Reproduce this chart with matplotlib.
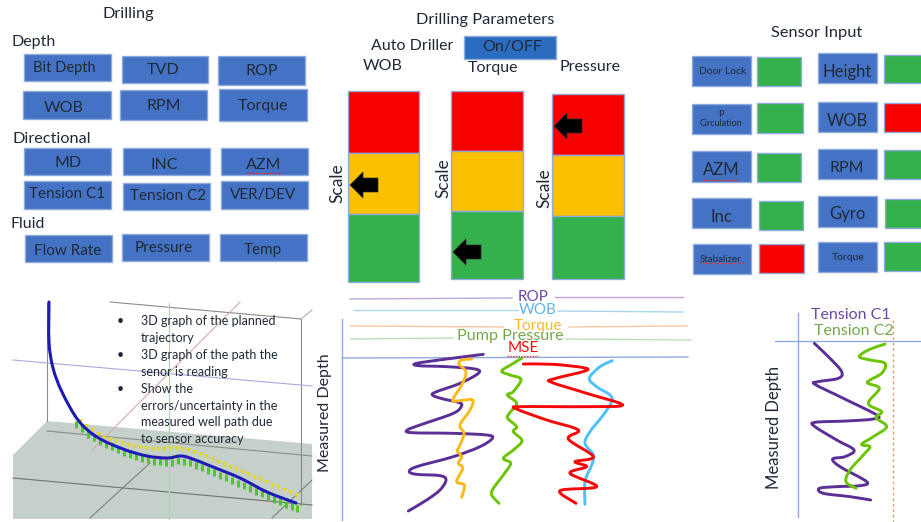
import matplotlib
matplotlib.use("Agg")
import matplotlib.pyplot as plt
from matplotlib.patches import Rectangle, Polygon, PathPatch
from matplotlib.path import Path

plt.rcParams["font.family"] = ["Lato", "DejaVu Sans"]

TEXT = "#1f2937"
BLUE_BOX = "#4472C4"
BOX_EDGE = "#8faadc"
GREEN = "#34B04C"
RED = "#F60000"
AMBER = "#FBC000"
PURPLE = "#5B2F96"

# ----- tiles: label, x0, y0, x1, y1, text x, text y, font size (reference pixels)
drill_tiles = [
    ("Bit Depth", 24, 54, 111, 81, 64, 68, 10.5), ("TVD", 122, 56, 208, 83, 163, 70, 11.5),
    ("ROP", 218, 56, 305, 85, 262, 71, 11.5), ("WOB", 23, 91, 111, 119, 64, 108, 11.5),
    ("RPM", 120, 90, 207, 120, 164, 106, 11.5), ("Torque", 219, 89, 307, 121, 263, 106, 11.5),
    ("MD", 24, 148, 111, 175, 68, 163, 11.5), ("INC", 123, 148, 210, 175, 164, 165, 11.5),
    ("AZM", 221, 148, 308, 175, 264, 165, 11.5), ("Tension C1", 24, 181, 111, 209, 67, 194, 11),
    ("Tension C2", 123, 183, 210, 210, 168, 196, 11), ("VER/DEV", 221, 181, 308, 209, 263, 195, 11),
    ("Flow Rate", 25, 235, 112, 262, 68, 251, 11), ("Pressure", 122, 234, 209, 261, 164, 248, 11),
    ("Temp", 220, 234, 307, 261, 263, 250, 11),
]
sensor_tiles = [
    ("Door Lock", 692, 56, 751, 86, 723, 72, 7.5), ("P\nCirculation", 692, 104, 751, 134, 721, 119, 6.5),
    ("AZM", 692, 151, 751, 182, 721, 170, 12), ("Inc", 692, 198, 751, 228, 721, 217, 12),
    ("Stabalizer", 693, 244, 751, 274, 721, 259, 7), ("Height", 818, 53, 877, 83, 847, 72, 12),
    ("WOB", 818, 102, 877, 132, 847, 121, 12), ("RPM", 818, 149, 877, 179, 847, 168, 11.5),
    ("Gyro", 818, 196, 877, 227, 847, 214, 12), ("Torque", 818, 242, 877, 272, 848, 257, 7.5),
]
sensor_lamps = [
    (757, 57, 801, 86, GREEN), (757, 103, 803, 133, GREEN), (757, 153, 801, 182, GREEN),
    (759, 201, 803, 230, GREEN), (759, 244, 804, 273, RED), (884, 55, 925, 83, GREEN),
    (884, 103, 925, 132, RED), (884, 150, 925, 179, GREEN), (885, 199, 925, 228, GREEN),
    (884, 242, 925, 271, GREEN),
]
section_labels = [
    ("Drilling", 128, 14, "center", 11.7), ("Depth", 11, 42, "left", 11.5),
    ("Directional", 12, 139, "left", 11.7), ("Fluid", 10, 224, "left", 11.5),
    ("Drilling Parameters", 485, 20, "center", 11.8), ("Auto Driller", 412, 46, "center", 11.5),
    ("WOB", 383, 66, "center", 11.5), ("Torque", 493, 68, "center", 11.5),
    ("Pressure", 590, 67, "center", 11.5), ("Sensor Input", 817, 33, "center", 11.8),
]

# ----- gauges: x0, x1, red top, red/amber, amber/green, green bottom, arrow tip x, arrow tip y, scale label x, y
gauges = [
    (348, 419, 91, 153, 214, 282, 350, 185, 337, 183),
    (451, 523, 91, 151, 211, 279, 453, 252, 443, 178),
    (552, 624, 94, 155, 216, 279, 554, 126, 544, 188),
]

# ----- 3D well picture
floor_x = [13, 47, 312, 312, 13]
floor_y = [455, 421, 444, 519, 519]
well_x = [49, 49, 53, 62, 78, 97, 123, 147, 167, 180, 190, 213, 240, 267, 296]
well_y = [302, 342, 368, 392, 420, 437, 449, 456, 458, 456, 458, 467, 478, 492, 503]
yellow_x = [80, 86, 92, 98, 104, 110, 116, 122, 128, 134, 140, 146, 152, 158, 164, 170, 176, 182, 188,
            194, 200, 206, 212, 218, 224, 230, 236, 242, 248, 254, 260, 266, 272, 278, 284, 290, 296]
yellow_y = [421, 426, 430, 434, 437, 439, 441, 443, 445, 446, 447, 448, 449, 449, 449, 448, 448, 449, 450,
            452, 454, 456, 459, 462, 464, 467, 469, 472, 474, 477, 479, 482, 485, 487, 490, 492, 495]
green_x = [76, 82, 88, 94, 100, 106, 112, 118, 124, 130, 136, 142, 148, 154, 160, 166, 172, 178, 184, 190,
           196, 202, 208, 214, 220, 226, 232, 238, 244, 250, 256, 262, 268, 274, 280, 286, 292, 297]
green_y = [428, 432, 438, 441, 445, 448, 450, 453, 456, 458, 460, 462, 463, 465, 465, 466, 466, 464, 465, 466,
           469, 471, 474, 476, 479, 481, 484, 487, 489, 492, 495, 497, 500, 503, 505, 508, 510, 512]
bullets = [
    ("3D graph of the planned", 321, True), ("trajectory", 338, False),
    ("3D graph of the path the", 355, True), ("senor is reading", 372, False),
    ("Show the", 389, True), ("errors/uncertainty in the", 406, False),
    ("measured well path due", 422, False), ("to sensor accuracy", 439, False),
]

# ----- curves, in zoomed crop units (see to_px)
rop_x = [490, 380, 290, 295, 380, 465, 475, 420, 345, 340, 370, 415, 425, 400, 300, 262, 275, 400, 500, 517,
         480, 400, 290, 268, 290, 360, 378, 360, 320, 265]
rop_y = [208, 222, 235, 242, 245, 252, 265, 295, 322, 332, 342, 352, 362, 385, 420, 435, 443, 445, 450, 460,
         485, 515, 545, 560, 568, 572, 585, 615, 645, 678]
torque_x = [455, 425, 417, 438, 425, 398, 420, 458, 450, 420, 432, 420, 412, 425, 415, 428, 410, 433, 425]
torque_y = [222, 225, 237, 262, 300, 345, 347, 345, 375, 420, 445, 480, 498, 515, 535, 550, 590, 600, 637]
pump_x = [605, 575, 545, 570, 603, 580, 562, 590, 568, 563, 590, 580, 606, 580, 550, 572, 550, 520, 515, 537]
pump_y = [220, 238, 258, 270, 283, 320, 330, 355, 385, 400, 425, 440, 467, 495, 520, 535, 570, 610, 630, 655]
mse_x = [610, 700, 790, 795, 700, 695, 800, 908, 800, 600, 590, 680, 775, 745, 820, 765, 800, 750, 830, 720, 768]
mse_y = [237, 238, 248, 258, 282, 292, 325, 360, 365, 365, 372, 405, 435, 462, 515, 530, 545, 565, 605, 617, 655]
wob_x = [877, 840, 808, 830, 870, 875, 850, 810, 795, 820, 815, 795, 795]
wob_y = [227, 245, 280, 305, 330, 350, 390, 440, 475, 510, 540, 590, 658]
c1_x = [193, 240, 275, 265, 205, 195, 280, 380, 370, 290, 195, 195, 260, 312, 285, 248, 270, 350, 330, 260,
        208, 220, 300, 362]
c1_y = [145, 190, 230, 250, 260, 268, 310, 360, 372, 378, 382, 395, 435, 465, 485, 492, 515, 560, 572, 575,
        580, 595, 605, 615]
c2_x = [405, 355, 328, 360, 405, 395, 352, 388, 355, 395, 378, 410, 370, 335, 360, 340, 300, 288, 318]
c2_y = [147, 165, 185, 195, 205, 235, 262, 280, 325, 350, 368, 395, 425, 448, 455, 480, 525, 560, 580]

# ----- header rules of the log tracks: x0, y0, x1, y1, colour
track_rules = [
    (350, 299, 512, 298, "#c0a8dc"), (555, 297, 683, 297, "#c0a8dc"),
    (354, 310, 518, 310, "#a8d4f0"), (558, 311, 683, 312, "#a8d4f0"),
    (351, 326, 503, 327, "#f4c8a0"), (569, 327, 687, 326, "#f4c8a0"),
    (351, 339, 453, 338, "#b8e0b8"), (565, 339, 691, 340, "#b8e0b8"),
]
track_labels = [
    ("ROP", 533, 297, "#7048a8", 11), ("WOB", 538, 310, "#5ab4ee", 11), ("Torque", 538, 326, "#fbb82c", 11),
    ("Pump Pressure", 510, 336, "#74a84c", 11.6), ("MSE", 523, 348, "#f01010", 11),
]


def smooth(ax, xs, ys, color, lw, zorder=2):
    # catmull-rom to bezier so the hand drawn curves stay round
    pts = list(zip(xs, ys))
    verts = [pts[0]]
    codes = [Path.MOVETO]
    for i in range(len(pts) - 1):
        p0 = pts[max(i - 1, 0)]
        p1 = pts[i]
        p2 = pts[i + 1]
        p3 = pts[min(i + 2, len(pts) - 1)]
        verts += [(p1[0] + (p2[0] - p0[0]) / 6, p1[1] + (p2[1] - p0[1]) / 6),
                  (p2[0] - (p3[0] - p1[0]) / 6, p2[1] - (p3[1] - p1[1]) / 6), p2]
        codes += [Path.CURVE4] * 3
    ax.add_patch(PathPatch(Path(verts, codes), fill=False, edgecolor=color, lw=lw,
                           capstyle="round", joinstyle="round", zorder=zorder))


def to_px(xs, ys, ox, oy):
    return [ox + x / 3 for x in xs], [oy + y / 3 for y in ys]


def tile(ax, x0, y0, x1, y1, color, edge=BOX_EDGE):
    ax.add_patch(Rectangle((x0, y0), x1 - x0, y1 - y0, facecolor=color, edgecolor=edge, lw=1))


def squiggle(ax, x0, x1, y):
    ax.plot([x0, x1], [y, y], color="#e03030", lw=1, ls=(0, (1, 1)))


def arrow(ax, tip_x, y):
    pts = [(tip_x, y), (tip_x + 13, y - 13), (tip_x + 13, y - 7), (tip_x + 28, y - 7),
           (tip_x + 28, y + 7), (tip_x + 13, y + 7), (tip_x + 13, y + 13)]
    ax.add_patch(Polygon(pts, closed=True, facecolor="black", edgecolor="#333333", lw=0.5, zorder=4))


def draw_tiles(ax):
    for label, x0, y0, x1, y1, tx, ty, size in drill_tiles + sensor_tiles:
        tile(ax, x0, y0, x1, y1, BLUE_BOX)
        ax.text(tx, ty, label, ha="center", va="center", fontsize=size, color=TEXT, linespacing=1.0)
    for x0, y0, x1, y1, color in sensor_lamps:
        tile(ax, x0, y0, x1, y1, color)
    for label, x, y, ha, size in section_labels:
        ax.text(x, y, label, ha=ha, va="center", fontsize=size, color=TEXT)
    squiggle(ax, 247, 281, 173)
    squiggle(ax, 703, 738, 180)
    squiggle(ax, 700, 743, 263)


def draw_gauges(ax):
    tile(ax, 464, 36, 556, 59, "#2a6cbf")
    ax.text(512, 47.5, "On/OFF", ha="center", va="center", fontsize=11.5, color=TEXT)
    for x0, x1, y0, y1, y2, y3, tip_x, tip_y, scale_x, scale_y in gauges:
        tile(ax, x0, y0, x1, y1, RED)
        tile(ax, x0, y1, x1, y2, AMBER)
        tile(ax, x0, y2, x1, y3, GREEN)
        arrow(ax, tip_x, tip_y)
        ax.text(scale_x, scale_y, "Scale", rotation=90, ha="center", va="center", fontsize=12.5, color=TEXT)


def draw_well(ax):
    ax.add_patch(Polygon(list(zip(floor_x, floor_y)), closed=True, facecolor="#c5d0ca", edgecolor="none"))
    for xs, ys, color in [([47, 47], [303, 421], "#8a8a8a"), ([301, 301], [319, 505], "#8a8a8a"),
                          ([110, 301], [302, 319], "#8a8a8a"), ([301, 312], [319, 310], "#b0b0b0"),
                          ([13, 312], [478, 505], "#707070"), ([47, 312], [431, 456], "#8a8a8a"),
                          ([90, 150], [518, 463], "#808080"), ([272, 312], [518, 480], "#808080"),
                          ([13, 312], [360, 386], "#a8a8e0"), ([92, 240], [450, 302], "#d8a8a8"),
                          ([169, 169], [303, 519], "#a8d8a8")]:
        ax.plot(xs, ys, color=color, lw=0.8)
    ax.scatter(yellow_x, yellow_y, marker="v", s=12, color="#e2d820", linewidths=0, zorder=3)
    ax.vlines(green_x, [y - 7 for y in green_y], green_y, color="#4cc82c", lw=2.2, zorder=3)
    smooth(ax, well_x, well_y, "#1c1cb4", 2.2, zorder=4)
    for line, y, has_bullet in bullets:
        if has_bullet:
            ax.text(120, y, "\u2022", ha="center", va="center", fontsize=9, color=TEXT, zorder=5)
        ax.text(141, y, line, ha="left", va="center", fontsize=9, color=TEXT, zorder=5)


def draw_logs(ax):
    ax.plot([342, 688], [358, 357], color=BOX_EDGE, lw=1)
    ax.plot([342, 342], [319, 520], color=BOX_EDGE, lw=1)
    for x0, y0, x1, y1, color in track_rules:
        ax.plot([x0, x1], [y0, y1], color=color, lw=1)
    for label, x, y, color, size in track_labels:
        ax.text(x, y, label, ha="center", va="center", fontsize=size, color=color)
    squiggle(ax, 507, 538, 356)
    ax.text(325, 413, "Measured Depth", rotation=90, ha="center", va="center", fontsize=11.5, color=TEXT)
    for xs, ys, color in [(rop_x, rop_y, PURPLE), (torque_x, torque_y, "#fbb81c"), (pump_x, pump_y, "#6cc404"),
                          (wob_x, wob_y, "#50c0f8"), (mse_x, mse_y, "#f60808")]:
        px, py = to_px(xs, ys, 320, 285)
        smooth(ax, px, py, color, 2.1)


def draw_tension(ax):
    ax.plot([775, 921], [341, 341], color=BOX_EDGE, lw=1)
    ax.plot([798, 798], [313, 517], color=BOX_EDGE, lw=1)
    ax.plot([893, 893], [320, 522], color="#e8a070", lw=1, ls=(0, (2, 2)))
    ax.text(851, 315, "Tension C1", ha="center", va="center", fontsize=11.5, color="#7048a8")
    ax.text(854, 331, "Tension C2", ha="center", va="center", fontsize=11.5, color="#74a84c")
    ax.text(774, 427, "Measured Depth", rotation=90, ha="center", va="center", fontsize=12, color=TEXT)
    for xs, ys, color in [(c1_x, c1_y, PURPLE), (c2_x, c2_y, "#6cc404")]:
        px, py = to_px(xs, ys, 750, 295)
        smooth(ax, px, py, color, 2.1)


def main():
    fig = plt.figure(figsize=(9.21, 5.22), dpi=100)
    ax = fig.add_axes([0, 0, 1, 1])
    ax.set_xlim(0, 921)
    ax.set_ylim(522, 0)
    ax.axis("off")

    draw_tiles(ax)
    draw_gauges(ax)
    draw_well(ax)
    draw_logs(ax)
    draw_tension(ax)

    fig.savefig("out.png", dpi=100)


if __name__ == "__main__":
    main()
